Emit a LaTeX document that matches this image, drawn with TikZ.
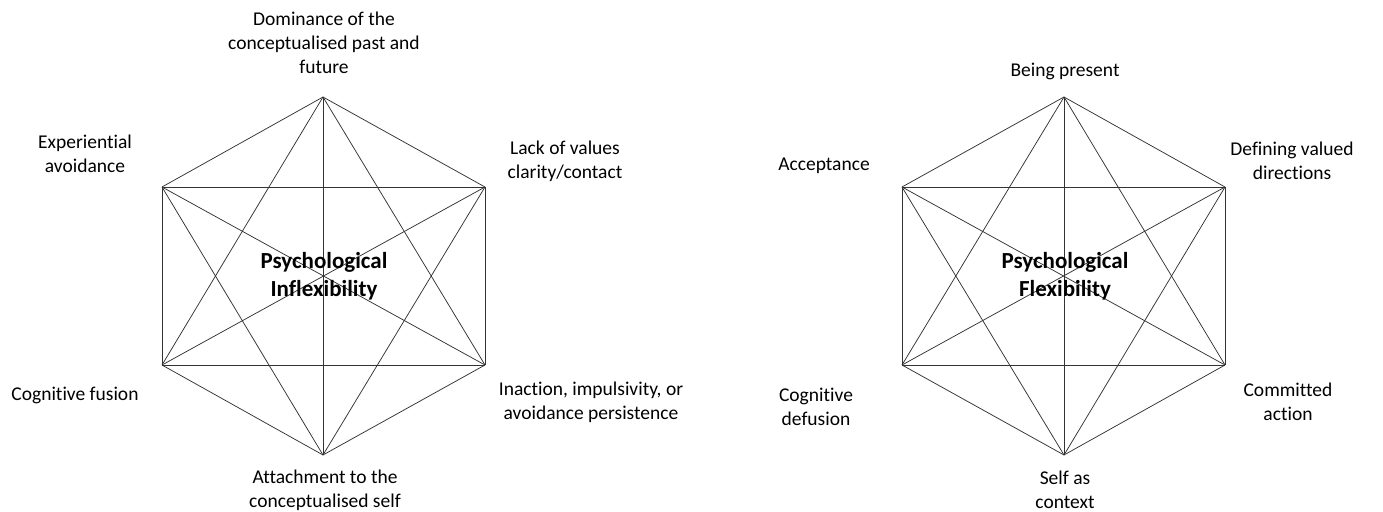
\documentclass[tikz,border=0pt]{standalone}
\usepackage{fontspec}
\setmainfont{Carlito}[Ligatures=NoCommon]
\usetikzlibrary{calc}

\tikzset{
	edge/.style={line width=0.75pt, color=black!80},
	lbl/.style={align=center, inner sep=0pt, font=\fontsize{19.5}{24}\selectfont},
	core/.style={align=center, inner sep=0pt, font=\fontsize{23}{28}\selectfont\bfseries},
}

\begin{document}
\begin{tikzpicture}[x=1pt, y=-1pt]
			%%%%% START %%%%%
			\useasboundingbox (0, 0) rectangle (1383, 511);
			
			% inflexibility hexagon
			\coordinate (L1) at (323, 97);
			\coordinate (L2) at (485, 187);
			\coordinate (L3) at (485, 365);
			\coordinate (L4) at (323, 455);
			\coordinate (L5) at (162, 365);
			\coordinate (L6) at (162, 187);
			
			% flexibility hexagon
			\coordinate (R1) at (1064, 97);
			\coordinate (R2) at (1225, 187);
			\coordinate (R3) at (1225, 365);
			\coordinate (R4) at (1064, 455);
			\coordinate (R5) at (902, 365);
			\coordinate (R6) at (902, 187);
			
			\foreach \h in {L, R}{
				\foreach \i in {1,...,5}{
					\pgfmathtruncatemacro{\nxt}{\i+1}
					\foreach \j in {\nxt,...,6}{
						\draw[edge] (\h\i) -- (\h\j);
					}
				}
			}
			
			\node[core] (inflex) at (324, 276) {Psychological\\Inflexibility};
			\node[core] (flex) at (1065, 276) {Psychological\\Flexibility};
			
			\node[lbl] (dominance) at (324, 43) {Dominance of the\\conceptualised past and\\future};
			\node[lbl] (lackvalues) at (565, 161) {Lack of values\\clarity/contact};
			\node[lbl] (inaction) at (591, 402) {Inaction, impulsivity, or\\avoidance persistence};
			\node[lbl] (attachment) at (325, 490) {Attachment to the\\conceptualised self};
			\node[lbl] (fusion) at (75, 395) {Cognitive fusion};
			\node[lbl] (avoidance) at (85, 154) {Experiential\\avoidance};
			
			\node[lbl] (present) at (1065, 71) {Being present};
			\node[lbl] (valued) at (1292, 161) {Defining valued\\directions};
			\node[lbl] (committed) at (1288, 402) {Committed\\action};
			\node[lbl] (selfctx) at (1065, 490) {Self as\\context};
			\node[lbl] (defusion) at (816, 407) {Cognitive\\defusion};
			\node[lbl] (acceptance) at (824, 166) {Acceptance};
			
			%%%%% END %%%%%
\end{tikzpicture}
\end{document}
